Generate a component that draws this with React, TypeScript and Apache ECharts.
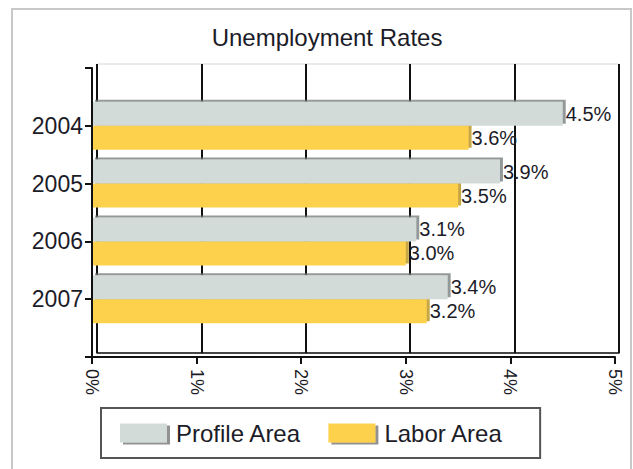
import React, { useEffect, useRef } from "react";
import * as echarts from "echarts";

const years = ["2004", "2005", "2006", "2007"];
const profileArea = [4.5, 3.9, 3.1, 3.4];
const laborArea = [3.6, 3.5, 3.0, 3.2];
const xTicks = [0, 1, 2, 3, 4, 5];

const FONT = "'Liberation Sans', Arial, sans-serif";
const TXT = "#1c1c28";

export default function App() {
  const ref = useRef<HTMLDivElement>(null);
  useEffect(() => {
    if (!ref.current) return;
    const chart = echarts.init(ref.current, null, { renderer: "svg" });
    const cats = ["", ...years, ""];
    const pad = (a: number[]) => [null, ...a, null];
    const labelFmt = (p: any) => (p.value == null ? "" : Number(p.value).toFixed(1) + "%");
    const option: any = {
      animation: false,
      backgroundColor: "#ffffff",
      title: {
        text: "Unemployment Rates",
        left: 322,
        textAlign: "center",
        top: 20,
        textStyle: { fontFamily: FONT, fontSize: 24, fontWeight: "normal", color: TXT },
      },
      graphic: [
        {
          type: "rect",
          shape: { x: 12, y: 9, width: 619, height: 470 },
          style: { fill: "none", stroke: "#c8c8c8", lineWidth: 2 },
          silent: true,
        },
      ],
      legend: {
        data: ["Profile Area", "Labor Area"],
        left: 101,
        top: 408,
        orient: "horizontal",
        itemWidth: 47,
        itemHeight: 19,
        itemGap: 27,
        padding: [13, 37, 13, 19],
        borderColor: "#555555",
        borderWidth: 2,
        icon: "rect",
        textStyle: { fontFamily: FONT, fontSize: 24, color: TXT, padding: [0, 0, 0, 4] },
        itemStyle: { shadowColor: "rgba(70,70,70,0.6)", shadowOffsetX: 3, shadowOffsetY: 2, shadowBlur: 0 },
      },
      grid: [
        { left: 92, top: 68, right: 18, bottom: 112, show: false },
        {
          left: 97,
          top: 64,
          right: 14,
          bottom: 116,
          show: true,
          borderColor: "#d6d6d6",
          borderWidth: 1,
          backgroundColor: "#ffffff",
          z: 0,
        },
      ],
      xAxis: [
        {
          type: "value",
          gridIndex: 0,
          min: 0,
          max: 5,
          interval: 1,
          axisLine: { show: true, lineStyle: { color: "#111", width: 2 } },
          axisTick: { show: true, length: 7, lineStyle: { color: "#111", width: 2 } },
          splitLine: { show: false },
          axisLabel: {
            rotate: -90,
            margin: 12,
            fontFamily: FONT,
            fontSize: 18,
            color: TXT,
            formatter: (v: number) => (xTicks.includes(v) ? v + "%" : ""),
          },
          z: 5,
        },
        {
          type: "value",
          gridIndex: 1,
          min: 0,
          max: 5,
          interval: 1,
          axisLine: { show: true, lineStyle: { color: "#111", width: 1.5 } },
          axisTick: { show: false },
          axisLabel: { show: false },
          splitLine: { show: true, lineStyle: { color: "#111", width: 2 } },
          z: 1,
        },
      ],
      yAxis: [
        {
          type: "category",
          gridIndex: 0,
          data: cats,
          inverse: true,
          boundaryGap: false,
          axisLine: { show: true, lineStyle: { color: "#111", width: 2 } },
          axisTick: { show: true, length: 7, interval: 0, lineStyle: { color: "#111", width: 2 } },
          axisLabel: {
            interval: 0,
            margin: 9,
            fontFamily: FONT,
            fontSize: 23,
            color: TXT,
            formatter: (v: string) => v,
          },
          splitLine: { show: false },
          z: 5,
        },
        {
          type: "value",
          gridIndex: 1,
          min: 0,
          max: 1,
          show: false,
        },
      ],
      series: [
        {
          name: "Profile Area",
          type: "bar",
          xAxisIndex: 0,
          yAxisIndex: 0,
          data: pad(profileArea),
          barWidth: 24,
          barGap: "0%",
          z: 4,
          itemStyle: {
            color: "#d3dbd9",
            shadowColor: "rgba(110,118,116,0.75)",
            shadowOffsetX: 3,
            shadowOffsetY: -2,
            shadowBlur: 0,
          },
          label: {
            show: true,
            position: "right",
            distance: 3,
            fontFamily: FONT,
            fontSize: 20,
            color: TXT,
            formatter: labelFmt,
          },
        },
        {
          name: "Labor Area",
          type: "bar",
          xAxisIndex: 0,
          yAxisIndex: 0,
          data: pad(laborArea),
          barWidth: 24,
          barGap: "0%",
          z: 3,
          itemStyle: {
            color: "#fdd14c",
            shadowColor: "rgba(190,150,40,0.85)",
            shadowOffsetX: 3,
            shadowOffsetY: -2,
            shadowBlur: 0,
          },
          label: {
            show: true,
            position: "right",
            distance: 3,
            fontFamily: FONT,
            fontSize: 20,
            color: TXT,
            formatter: labelFmt,
          },
        },
      ],
    };
    chart.setOption(option);
    return () => chart.dispose();
  }, []);
  return (
    <div
      ref={ref}
      style={{ position: "fixed", left: 0, top: 0, width: 633, height: 469, background: "#fff" }}
    />
  );
}
